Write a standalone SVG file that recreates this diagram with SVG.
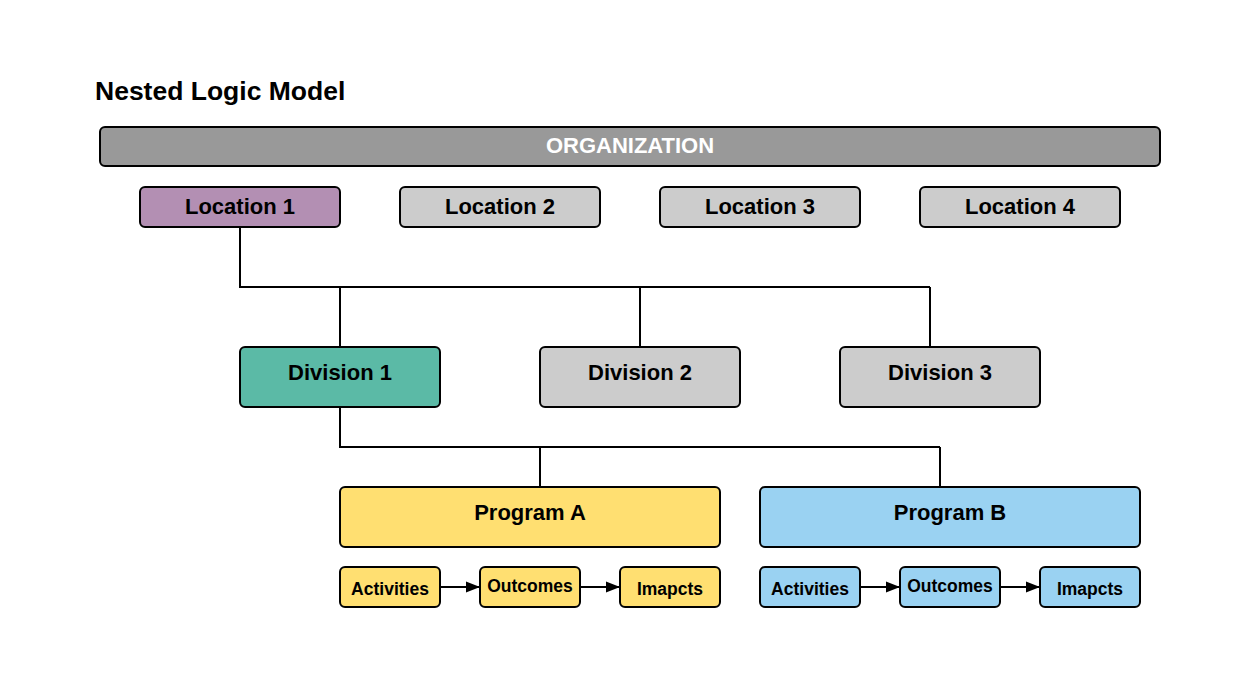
<svg xmlns="http://www.w3.org/2000/svg" width="1239" height="687" viewBox="0 0 1239 687">
<style>
.b{stroke:#000;stroke-width:2}
.t{font-family:"Liberation Sans",Arial,sans-serif;font-weight:bold;fill:#000;text-anchor:middle}
.l{font-size:22px}
.s{font-size:17.5px}
.c{fill:none;stroke:#000;stroke-width:2}
.gray{fill:#cccccc}
.yel{fill:#ffdf71}
.blu{fill:#9ad2f2}
</style>
<defs>
<marker id="ah" markerWidth="14" markerHeight="12" refX="14" refY="6" orient="auto" markerUnits="userSpaceOnUse">
<path d="M0,0.5 L14,6 L0,11.5 Z" fill="#000"/>
</marker>
</defs>
<rect width="1239" height="687" fill="#fff"/>
<text x="95" y="100" class="t" style="text-anchor:start;font-size:26.5px">Nested Logic Model</text>
<g id="connectors">
<path class="c" d="M240,227 V287 H930 M340,287 V347 M640,287 V347 M930,287 V347"/>
<path class="c" d="M340,407 V447 H940 M540,447 V487 M940,447 V487"/>
<path class="c" d="M440,587 H480" marker-end="url(#ah)"/>
<path class="c" d="M580,587 H620" marker-end="url(#ah)"/>
<path class="c" d="M860,587 H900" marker-end="url(#ah)"/>
<path class="c" d="M1000,587 H1040" marker-end="url(#ah)"/>
</g>
<g id="org"><rect x="100" y="127" width="1060" height="39" rx="5" class="b" fill="#999999"/><text x="630" y="153" class="t l" style="fill:#fff">ORGANIZATION</text></g>
<g id="loc1"><rect x="140" y="187" width="200" height="40" rx="5" class="b" fill="#b38fb3"/><text x="240" y="214" class="t l">Location 1</text></g>
<g id="loc2"><rect x="400" y="187" width="200" height="40" rx="5" class="b gray"/><text x="500" y="214" class="t l">Location 2</text></g>
<g id="loc3"><rect x="660" y="187" width="200" height="40" rx="5" class="b gray"/><text x="760" y="214" class="t l">Location 3</text></g>
<g id="loc4"><rect x="920" y="187" width="200" height="40" rx="5" class="b gray"/><text x="1020" y="214" class="t l">Location 4</text></g>
<g id="div1"><rect x="240" y="347" width="200" height="60" rx="5" class="b" fill="#5bbaa6"/><text x="340" y="380" class="t l">Division 1</text></g>
<g id="div2"><rect x="540" y="347" width="200" height="60" rx="5" class="b gray"/><text x="640" y="380" class="t l">Division 2</text></g>
<g id="div3"><rect x="840" y="347" width="200" height="60" rx="5" class="b gray"/><text x="940" y="380" class="t l">Division 3</text></g>
<g id="progA"><rect x="340" y="487" width="380" height="60" rx="5" class="b yel"/><text x="530" y="520" class="t l">Program A</text></g>
<g id="progB"><rect x="760" y="487" width="380" height="60" rx="5" class="b blu"/><text x="950" y="520" class="t l">Program B</text></g>
<g id="a-act"><rect x="340" y="567" width="100" height="40" rx="5" class="b yel"/><text x="390" y="595" class="t s">Activities</text></g>
<g id="a-out"><rect x="480" y="567" width="100" height="40" rx="5" class="b yel"/><text x="530" y="592" class="t s">Outcomes</text></g>
<g id="a-imp"><rect x="620" y="567" width="100" height="40" rx="5" class="b yel"/><text x="670" y="595" class="t s">Imapcts</text></g>
<g id="b-act"><rect x="760" y="567" width="100" height="40" rx="5" class="b blu"/><text x="810" y="595" class="t s">Activities</text></g>
<g id="b-out"><rect x="900" y="567" width="100" height="40" rx="5" class="b blu"/><text x="950" y="592" class="t s">Outcomes</text></g>
<g id="b-imp"><rect x="1040" y="567" width="100" height="40" rx="5" class="b blu"/><text x="1090" y="595" class="t s">Imapcts</text></g>
</svg>
